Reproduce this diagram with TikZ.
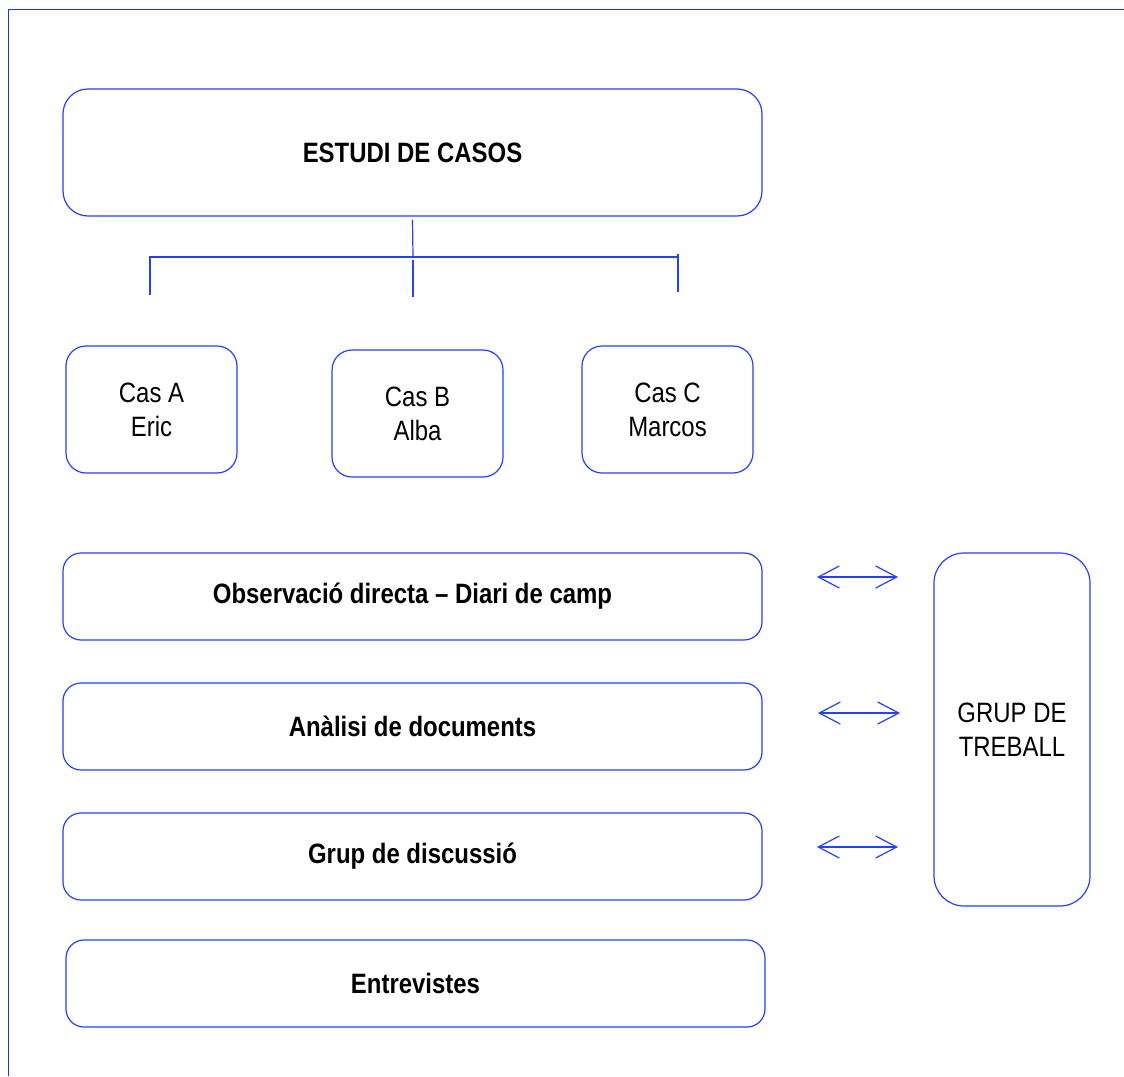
\documentclass[tikz,border=0pt]{standalone}
\usepackage{fontspec}
\setmainfont{Liberation Sans}[FakeStretch=0.855]
\usetikzlibrary{arrows.meta}
\definecolor{lineblue}{RGB}{35,65,250}
\definecolor{frameblue}{RGB}{30,50,230}
\begin{document}
\begin{tikzpicture}[x=1pt,y=-1pt,
  box/.style={draw=lineblue,line width=1.2pt,rectangle,inner sep=0pt,align=center,
    font=\fontsize{28}{34}\selectfont,text=black},
  bigbox/.style={box,minimum width=699pt,minimum height=127pt,rounded corners=25pt},
  casbox/.style={box,minimum width=171pt,minimum height=127pt,rounded corners=20pt},
  methbox/.style={box,minimum width=699pt,minimum height=87pt,rounded corners=18pt,
    font=\fontsize{28}{34}\selectfont\bfseries},
  sidebox/.style={box,minimum width=156pt,minimum height=353pt,rounded corners=30pt},
  conn/.style={draw=lineblue,line width=1.2pt},
  barb/.tip={Straight Barb[length=21pt,width=22pt,line width=1.2pt]},
  dbl/.style={draw=lineblue,line width=1.2pt,barb-barb}
]
\useasboundingbox (0,0) rectangle (1124,1076);
\fill[white] (0,0) rectangle (1124,1076);
% frame
\coordinate (ftl) at (8.5,9.5);
\coordinate (ftr) at (1124,9.5);
\coordinate (fbl) at (8.5,1076);
\draw[draw=frameblue,line width=1.8pt] (fbl) -- (ftl) -- (ftr);

\node[bigbox,font=\fontsize{28}{34}\selectfont\bfseries] (estudi) at (412.5,152.5) {ESTUDI DE CASOS};

\node[casbox] (casA) at (151.5,409.5) {Cas A\\Eric};
\node[casbox] (casB) at (417.5,413.5) {Cas B\\Alba};
\node[casbox] (casC) at (667.5,409.5) {Cas C\\Marcos};

\node[methbox] (obs) at (412.5,596.5) {Observació directa – Diari de camp};
\node[methbox] (anal) at (412.5,726.5) {Anàlisi de documents};
\node[methbox] (disc) at (412.5,856.5) {Grup de discussió};
\node[methbox] (entr) at (415.5,983.5) {Entrevistes};

\node[sidebox] (grup) at (1012,729.5) {GRUP DE\\TREBALL};

% tree connector
\coordinate (jm) at (413,257);
\coordinate (jl) at (150,257);
\coordinate (jr) at (678,257);
\coordinate (dl) at (150,295);
\coordinate (mt) at (413,260);
\coordinate (dm) at (413,297);
\coordinate (rt) at (678,254);
\coordinate (dr) at (678,292);
\draw[conn] ([yshift=-3pt]estudi.south) -- (jm);
\draw[conn] (dl) -- (jl) -- (jr);
\draw[conn] (mt) -- (dm);
\draw[conn] (rt) -- (dr);

% double arrows
\coordinate (a1l) at (817,577);
\coordinate (a1r) at (898,577);
\coordinate (a2l) at (818,713);
\coordinate (a2r) at (900,713);
\coordinate (a3l) at (817,847);
\coordinate (a3r) at (898,847);
\draw[dbl] (a1l) -- (a1r);
\draw[dbl] (a2l) -- (a2r);
\draw[dbl] (a3l) -- (a3r);
\end{tikzpicture}
\end{document}
